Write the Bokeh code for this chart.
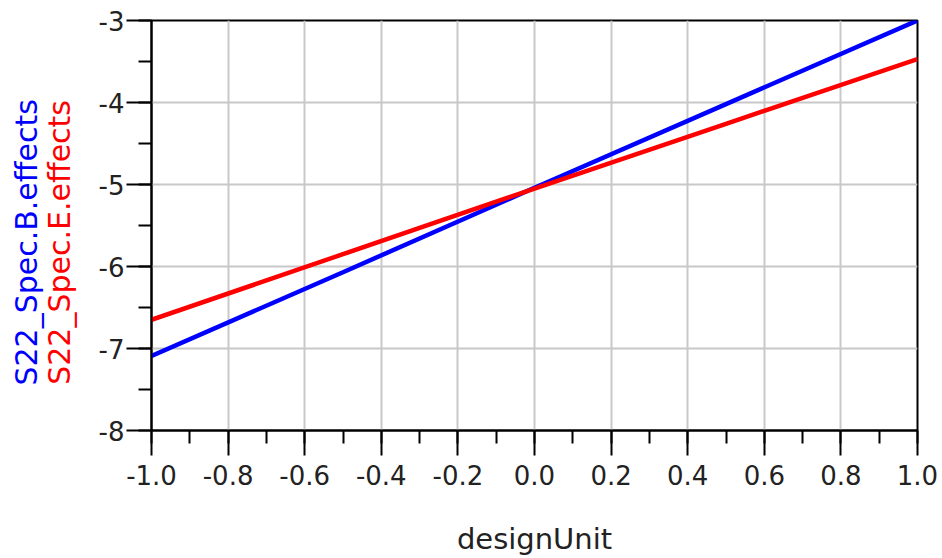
import math
from bokeh.plotting import figure
from bokeh.layouts import row
from bokeh.models import SingleIntervalTicker, PrintfTickFormatter, Range1d, ColumnDataSource
from bokeh.core.properties import value
from bokeh.embed import file_html
from bokeh.resources import INLINE

design_unit = [-1.0, -0.5, 0.0, 0.5, 1.0]
s22_b = [-7.09, -6.07, -5.04, -4.02, -3.00]
s22_e = [-6.65, -5.85, -5.05, -4.26, -3.47]

x_label = "designUnit"
y_labels = ["S22_Spec.B.effects", "S22_Spec.E.effects"]
y_label_colors = ["#0000ff", "#ff0000"]

FONT = "DejaVu Sans"
H = 558
LABEL_W = 80

# ---- narrow panel holding the two coloured, rotated y-axis titles ----
lab = figure(width=LABEL_W, height=H, output_backend="svg", toolbar_location=None,
             x_range=Range1d(0, LABEL_W), y_range=Range1d(0, H), min_border=0)
lab.axis.visible = False
lab.grid.visible = False
lab.outline_line_color = None
lab.background_fill_color = "white"
lab.border_fill_color = "white"
src = ColumnDataSource(dict(x=[26, 59], y=[H - 302, H - 302], t=y_labels, c=y_label_colors))
lab.text(x="x", y="y", text="t", text_color="c", source=src, angle=math.pi / 2,
         text_align="center", text_baseline="middle",
         text_font=value(FONT), text_font_size="30px")

# ---- main plot ----
p = figure(width=942 - LABEL_W, height=H, output_backend="svg", toolbar_location=None,
           x_range=Range1d(-1, 1), y_range=Range1d(-8, -3),
           min_border_left=151 - LABEL_W, min_border_top=20, min_border_right=25,
           min_border_bottom=126)
p.background_fill_color = "white"
p.border_fill_color = "white"
p.outline_line_color = "black"
p.outline_line_width = 2
p.outline_line_alpha = 1.0

p.line(design_unit, s22_b, line_color="#0000ff", line_width=4.5)
p.line(design_unit, s22_e, line_color="#ff0000", line_width=4.5)

for ax in (p.xaxis[0], p.yaxis[0]):
    ax.axis_line_color = "black"
    ax.axis_line_width = 2
    ax.major_tick_line_color = "black"
    ax.major_tick_line_width = 2
    ax.minor_tick_line_color = "black"
    ax.minor_tick_line_width = 2
    ax.major_tick_in = 0
    ax.minor_tick_in = 0
    ax.major_tick_out = 25
    ax.minor_tick_out = 13
    ax.major_label_text_font = FONT
    ax.major_label_text_font_size = "26px"
    ax.major_label_text_color = "#222222"

p.xaxis.ticker = SingleIntervalTicker(interval=0.2, num_minor_ticks=2)
p.yaxis.ticker = SingleIntervalTicker(interval=1, num_minor_ticks=2)
p.xaxis.formatter = PrintfTickFormatter(format="%.1f")
p.yaxis.formatter = PrintfTickFormatter(format="%d")
p.xaxis.major_label_standoff = 9
p.yaxis.major_label_standoff = 2

p.xaxis.axis_label = x_label
p.xaxis.axis_label_text_font = FONT
p.xaxis.axis_label_text_font_size = "29px"
p.xaxis.axis_label_text_font_style = "normal"
p.xaxis.axis_label_text_color = "#222222"
p.xaxis.axis_label_standoff = 34

p.xgrid.ticker = p.xaxis.ticker
p.ygrid.ticker = p.yaxis.ticker
p.grid.grid_line_color = "#c8c8c8"
p.grid.grid_line_width = 2
p.grid.grid_line_alpha = 1.0

layout = row(lab, p, spacing=0)
open("out.html", "w").write(file_html(layout, INLINE))
